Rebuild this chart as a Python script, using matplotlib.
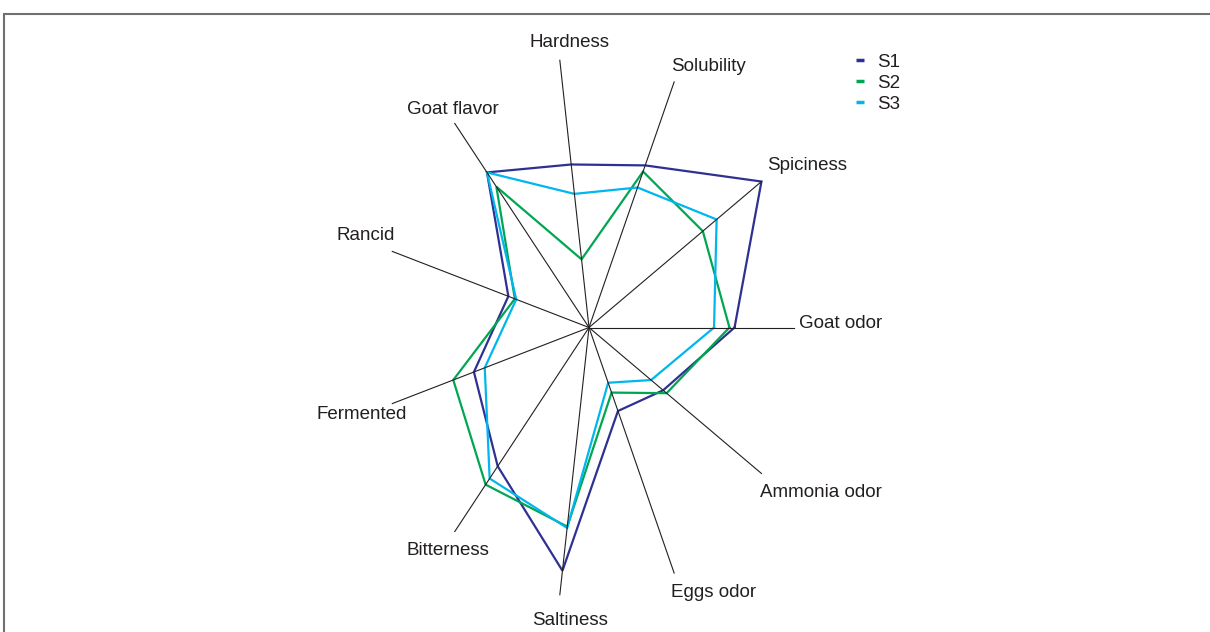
import numpy as np
import matplotlib.pyplot as plt
from matplotlib.lines import Line2D
from matplotlib.patches import Rectangle

plt.rcParams.update({
    'font.family': ['Liberation Sans', 'DejaVu Sans'],
    'font.size': 13.5,
})

# ---------------- data (scores normalised to the axis maximum) ----------------
attributes = ["Goat odor", "Spiciness", "Solubility", "Hardness", "Goat flavor",
              "Rancid", "Fermented", "Bitterness", "Saltiness", "Eggs odor",
              "Ammonia odor"]
s1 = [0.71, 1.00, 0.66, 0.61, 0.76, 0.41, 0.585, 0.68, 0.91, 0.34, 0.43]
s2 = [0.685, 0.66, 0.635, 0.255, 0.69, 0.377, 0.69, 0.77, 0.745, 0.265, 0.45]
s3 = [0.61, 0.74, 0.57, 0.50, 0.76, 0.37, 0.53, 0.74, 0.75, 0.225, 0.36]
series_names = ["S1", "S2", "S3"]
series_colors = ["#2E3192", "#00A651", "#00B6EF"]

# ---------------- geometry ----------------
W, H, DPI = 1210, 632, 100
cx, cy = 589, 327.5          # chart centre (px)
rx, ry = 205, 270            # radius of the spoke ellipse (px)
n = len(attributes)
theta = 2 * np.pi * np.arange(n) / n

# label offsets from the spoke tips (px)
label_off = {
    "Goat odor": (47, 4), "Spiciness": (46, 16), "Solubility": (34, 15),
    "Hardness": (10, 18), "Goat flavor": (-2, 14), "Rancid": (-27, 16),
    "Fermented": (-31, -11), "Bitterness": (-7, -19), "Saltiness": (10, -26),
    "Eggs odor": (39, -19), "Ammonia odor": (59, -19),
}

fig = plt.figure(figsize=(W / DPI, H / DPI), dpi=DPI)
ax = fig.add_axes([0, 0, 1, 1])
ax.set_xlim(-cx / rx, (W - cx) / rx)
ax.set_ylim(-(H - cy) / ry, cy / ry)
ax.axis("off")

# outer frame
fig.patches.append(Rectangle((4 / W, -0.05), 1.1, (H - 14) / H + 0.05,
                             transform=fig.transFigure, fill=False,
                             edgecolor="#707070", linewidth=1.5))

ux, uy = np.cos(theta), np.sin(theta)

# series polygons
for vals, name, col in zip([s1, s2, s3], series_names, series_colors):
    r = np.array(vals + vals[:1])
    t = np.append(theta, theta[0])
    ax.plot(r * np.cos(t), r * np.sin(t), color=col, lw=1.6, zorder=2,
            solid_joinstyle="miter")

# spokes and category labels
for i, name in enumerate(attributes):
    ax.plot([0, ux[i]], [0, uy[i]], color="#231F20", lw=0.8, zorder=3)
    dx, dy = label_off[name]
    ax.annotate(name, (ux[i], uy[i]), xytext=(dx, dy), textcoords="offset pixels",
                ha="center", va="center", color="#231F20")

# legend
handles = [Line2D([], [], color=c, lw=2.5, solid_capstyle="butt") for c in series_colors]
fig.legend(handles, series_names, loc="upper left", bbox_to_anchor=(839 / W, 1 - 37 / H),
           frameon=False, handlelength=0.45, handletextpad=0.7, labelspacing=0.2,
           fontsize=13.5, labelcolor="#231F20")

fig.savefig("out.png", dpi=DPI)
